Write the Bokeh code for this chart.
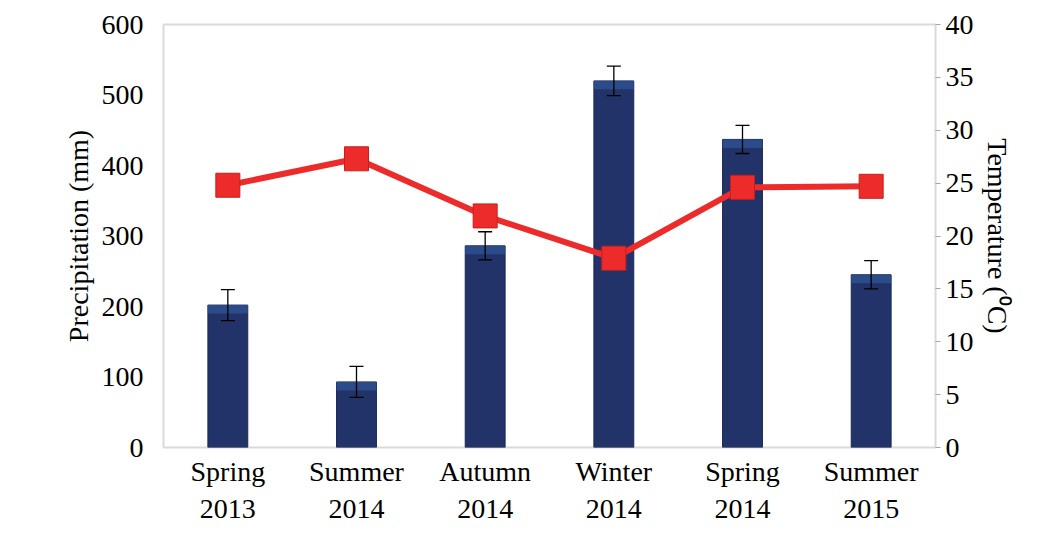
from bokeh.plotting import figure
from bokeh.models import Range1d, LinearAxis, FixedTicker, Whisker, ColumnDataSource
from bokeh.embed import file_html
from bokeh.resources import INLINE

seasons = ["Spring\n2013", "Summer\n2014", "Autumn\n2014", "Winter\n2014", "Spring\n2014", "Summer\n2015"]
precip = [202, 93, 286, 520, 437, 245]
precip_err = [22, 22, 20, 21, 20, 20]
temp = [24.8, 27.3, 21.9, 17.9, 24.6, 24.7]

xs = list(range(len(seasons)))
FONT = "Liberation Serif"
FS = "28px"

p = figure(width=1040, height=526, output_backend="svg", toolbar_location=None,
           x_range=Range1d(-0.5, 5.5), y_range=Range1d(0, 600),
           min_border_left=163, min_border_right=105, min_border_top=24, min_border_bottom=77)
p.extra_y_ranges = {"t": Range1d(0, 40)}
p.xgrid.visible = False
p.ygrid.visible = False
p.outline_line_color = "#d9d9d9"
p.outline_line_width = 2

src = ColumnDataSource(dict(x=xs, top=precip, cap=[v - 12 for v in precip],
                            lo=[v - e for v, e in zip(precip, precip_err)],
                            hi=[v + e for v, e in zip(precip, precip_err)], t=temp))
p.vbar(x="x", top="top", width=0.31, source=src, fill_color="#22336a", line_color="#1a2855")
p.vbar(x="x", top="top", bottom="cap", width=0.31, source=src,
       fill_color="#2f5597", line_color=None, fill_alpha=0.7)
w = Whisker(base="x", lower="lo", upper="hi", source=src, line_color="black",
            line_width=1.3, level="overlay")
w.upper_head.size = 14
w.lower_head.size = 14
w.upper_head.line_width = 1.3
w.lower_head.line_width = 1.3
p.add_layout(w)

p.line("x", "t", source=src, y_range_name="t", line_color="#ee2b2b", line_width=6)
p.scatter("x", "t", source=src, y_range_name="t", marker="square", size=24,
          fill_color="#ee2b2b", line_color="#c81e1e")

ax = p.xaxis[0]
ax.ticker = FixedTicker(ticks=xs)
ax.major_label_overrides = {i: s for i, s in enumerate(seasons)}
ax.axis_line_color = None
ax.major_tick_line_color = None
ax.major_tick_out = 0
ax.major_label_standoff = 8
ax.major_label_text_font = FONT
ax.major_label_text_font_size = FS
ax.major_label_text_color = "black"

ay = p.yaxis[0]
ay.ticker = FixedTicker(ticks=list(range(0, 601, 100)))
ay.axis_line_color = None
ay.major_tick_line_color = None
ay.minor_tick_line_color = None
ay.major_label_standoff = 14
ay.axis_label = "Precipitation (mm)"
ay.axis_label_text_font = FONT
ay.axis_label_text_font_style = "normal"
ay.axis_label_text_font_size = FS
ay.axis_label_text_color = "black"
ay.major_label_text_font = FONT
ay.major_label_text_font_size = FS
ay.major_label_text_color = "black"

ry = LinearAxis(y_range_name="t", ticker=FixedTicker(ticks=list(range(0, 41, 5))))
ry.axis_line_color = None
ry.major_tick_line_color = "#a6a6a6"
ry.major_tick_in = 0
ry.major_tick_out = 5
ry.minor_tick_line_color = None
ry.axis_label = "Temperature (⁰C)"
ry.axis_label_text_font = FONT
ry.axis_label_text_font_style = "normal"
ry.axis_label_text_font_size = FS
ry.axis_label_text_color = "black"
ry.major_label_text_font = FONT
ry.major_label_text_font_size = FS
ry.major_label_text_color = "black"
p.add_layout(ry, "right")

open("out.html", "w").write(file_html(p, INLINE))
